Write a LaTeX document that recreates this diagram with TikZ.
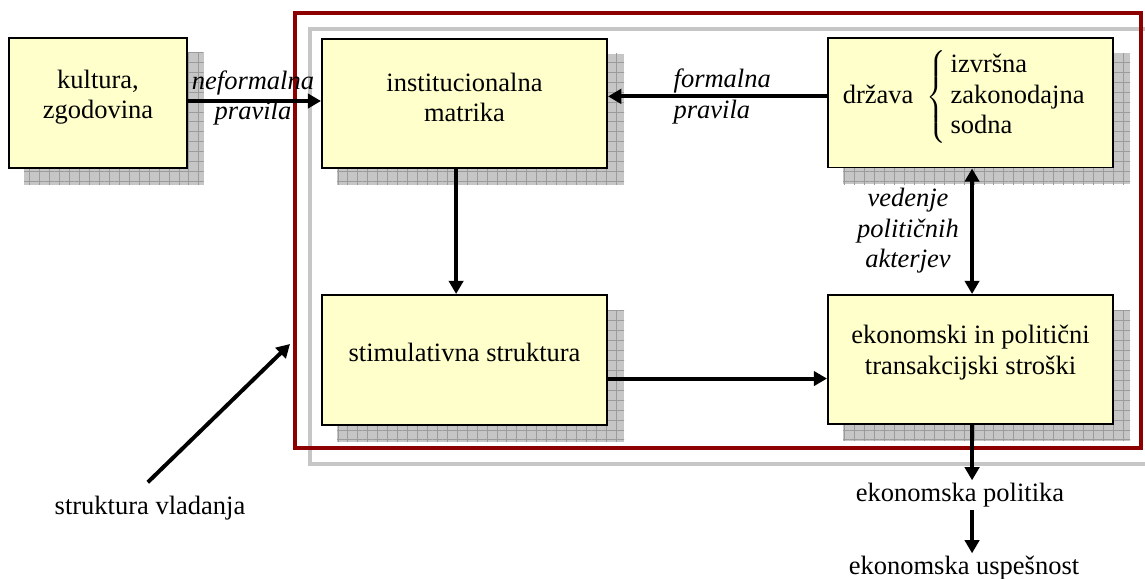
\documentclass[tikz,border=0pt]{standalone}
\usepackage{fontspec}
\setmainfont{Liberation Serif}
\usetikzlibrary{arrows.meta,patterns.meta,backgrounds}

\definecolor{boxfill}{RGB}{255,255,204}
\definecolor{framered}{RGB}{140,0,0}
\definecolor{shadowgray}{RGB}{198,198,198}
\definecolor{gridgray}{RGB}{155,155,155}

\newcommand{\pxu}{0.4528pt}

\tikzset{
  box/.style={draw, line width=0.9pt, fill=boxfill, minimum width=285*\pxu, minimum height=129*\pxu, inner sep=0pt},
  txt/.style={align=center, font=\fontsize{12}{13.8}\selectfont, inner sep=1pt},
  lbl/.style={txt, font=\fontsize{12}{13.8}\selectfont\itshape},
  arr/.style={line width=1.8pt, ->},
  shadowbox/.style={fill=shadowgray, postaction={pattern={Hatch[distance=4.5pt,line width=0.35pt]}, pattern color=gridgray}},
}

\begin{document}
\begin{tikzpicture}[x=\pxu, y=-\pxu, >={Triangle[length=6pt,width=6.5pt]}]
    \useasboundingbox (0,0) rectangle (1145,579);
    \clip (0,0) rectangle (1145,579);
    % Škatle
    \node[box, minimum width=178*\pxu, minimum height=130*\pxu] (kult) at (98,103) {};
    \node[box] (inst) at (464.5,103.5) {};
    \node[box] (drz) at (970.5,103) {};
    \node[box, minimum height=130*\pxu] (stim) at (464.5,360) {};
    \node[box] (ekon) at (970.5,359.5) {};
    % Okvir (struktura vladanja)
    \coordinate (fr-nw) at (295,13);
    \coordinate (fr-se) at (1141,448);
    \draw[framered, line width=1.4pt] (fr-nw) rectangle (fr-se);
    % Sence
    \begin{pgfonlayer}{background}
        \foreach \n in {kult,inst,drz,stim,ekon}
            \path[shadowbox] ([shift={(16,16)}]\n.south west) rectangle ([shift={(16,16)}]\n.north east);
        \draw[shadowgray, line width=1.8pt] ([shift={(15,16)}]fr-nw) rectangle ([shift={(15,16)}]fr-se);
    \end{pgfonlayer}
    % Besedila v škatlah
    \node[txt] (kult-t) at ([yshift=2.7pt]kult) {kultura,\\zgodovina};
    \node[txt] (inst-t) at ([yshift=2.7pt]inst) {institucionalna\\matrika};
    \node[txt] (drz-t) at ([xshift=-2.5pt,yshift=2.7pt]drz) {država\hspace{6pt}$\left\{\begin{tabular}{@{\hspace{2pt}}l@{}}izvršna\\zakonodajna\\sodna\end{tabular}\right.$};
    \node[txt] (stim-t) at ([yshift=3.2pt]stim) {stimulativna struktura};
    \node[txt] (ekon-t) at ([yshift=3.2pt]ekon) {ekonomski in politični\\transakcijski stroški};
    % Zunanja besedila
    \node[txt] (pol) at (960,495) {ekonomska politika};
    \node[txt] (usp) at (964,568) {ekonomska uspešnost};
    \node[txt] (sv) at (150,508) {struktura vladanja};
    % Oznake puščic
    \node[lbl] (neform) at (253,98) {neformalna\\pravila};
    \node[lbl, anchor=west, align=left] (form) at (671,96.5) {formalna\\pravila};
    \node[lbl] (ved) at (908,231) {vedenje\\političnih\\akterjev};
    % Puščice
    \draw[arr] ([yshift=0.9pt]kult.east) -- ([yshift=0.9pt]kult.east -| inst.west);
    \draw[arr] ([yshift=3pt]drz.west) -- ([yshift=3pt]drz.west -| inst.east);
    \draw[arr] ([xshift=-3.8pt]inst.south) -- ([xshift=-3.8pt]inst.south |- stim.north);
    \draw[arr] ([yshift=-8.4pt]stim.east) -- ([yshift=-8.4pt]stim.east -| ekon.west);
    \draw[arr, <->] ([xshift=0.7pt]drz.south) -- ([xshift=0.7pt]ekon.north);
    \draw[arr] ([xshift=0.7pt]ekon.south) -- ([xshift=0.7pt]ekon.south |- pol.north);
    \draw[arr] ([xshift=0.7pt]pol.south -| ekon.south) -- ([xshift=0.7pt]usp.north -| ekon.south);
    \coordinate (sv-tip) at (290,344);
    \draw[arr] ([xshift=-1pt,yshift=5pt]sv.north) -- (sv-tip);
\end{tikzpicture}
\end{document}
